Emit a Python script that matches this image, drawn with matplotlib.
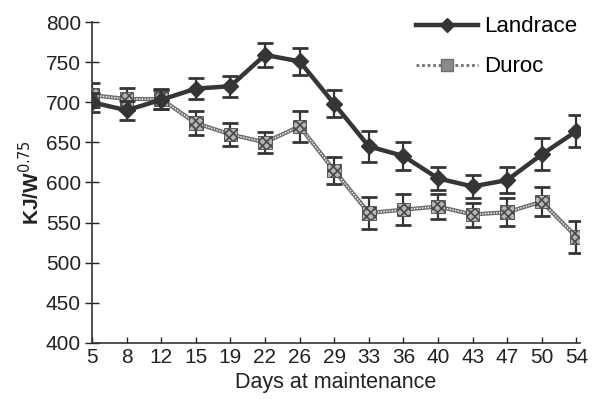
import numpy as np
import matplotlib as mpl
mpl.use("Agg")
import matplotlib.pyplot as plt
from matplotlib.lines import Line2D

plt.rcParams["font.family"] = ["Liberation Sans", "DejaVu Sans"]
plt.rcParams["hatch.linewidth"] = 1.2

# Data
days = ["5", "8", "12", "15", "19", "22", "26", "29", "33", "36", "40", "43", "47", "50", "54"]
landrace = [700, 690, 703, 717, 720, 759, 751, 698, 645, 633, 605, 595, 603, 635, 664]
landrace_err = [12, 12, 12, 13, 13, 15, 17, 17, 19, 18, 14, 14, 16, 20, 20]
duroc = [709, 704, 704, 674, 660, 650, 670, 615, 562, 566, 570, 560, 563, 576, 532]
duroc_err = [15, 14, 13, 15, 14, 13, 19, 17, 20, 19, 15, 15, 17, 18, 20]

x = np.arange(len(days))

fig = plt.figure(figsize=(5.93, 4.01), dpi=100)
ax = fig.add_axes([0.155, 0.145, 0.823, 0.80])

dark = "#353535"
grey = "#707070"

# Duroc: checkered line + hatched markers
ax.errorbar(x, duroc, yerr=duroc_err, fmt="none", ecolor=dark, elinewidth=1.6,
            capsize=5.5, capthick=2, zorder=2)
ax.plot(x, duroc, color=grey, lw=3, zorder=3)
ax.plot(x, duroc, color="white", lw=1, ls=(0, (1, 1)), zorder=3)
ax.scatter(x, duroc, marker="s", s=95, facecolor="#b5b5b5", edgecolor="#4a4a4a",
           hatch="xxxx", linewidths=0.6, zorder=4)

# Landrace: thick dark line with filled markers
ax.errorbar(x, landrace, yerr=landrace_err, fmt="none", ecolor=dark, elinewidth=1.6,
            capsize=5.5, capthick=2, zorder=5)
ax.plot(x, landrace, color=dark, lw=3.2, marker="D", ms=8, mfc=dark, mec=dark, zorder=6)

ax.set_xlim(0, 14.1)
ax.set_ylim(400, 800)
ax.set_xticks(x)
ax.set_xticklabels(days)
ax.set_yticks(np.arange(400, 801, 50))
ax.tick_params(axis="both", labelsize=15, colors="#222222")
ax.tick_params(axis="y", direction="inout", length=10, width=1, pad=3)
ax.tick_params(axis="x", direction="in", length=4, width=1, pad=4)
for s in ["top", "right"]:
    ax.spines[s].set_visible(False)
for s in ["left", "bottom"]:
    ax.spines[s].set_color("#333333")
    ax.spines[s].set_linewidth(1.2)

ax.set_xlabel("Days at maintenance", fontsize=15.5, color="#222222", labelpad=3)
ax.set_ylabel("KJ/W$^{0.75}$", fontsize=15, color="#222222", labelpad=2,
              fontweight="bold")

handles = [
    Line2D([0], [0], color=dark, lw=3.2, marker="D", ms=7, label="Landrace"),
    Line2D([0], [0], color=grey, lw=2, ls=(0, (1, 1)), marker="s", ms=8,
           mfc="#8a8a8a", mec=grey, label="Duroc"),
]
ax.legend(handles=handles, loc="upper right", bbox_to_anchor=(1.035, 1.08), frameon=False,
          fontsize=16, handlelength=2.8, labelspacing=0.85, handletextpad=0.25)

plt.savefig("out.png", dpi=100)
